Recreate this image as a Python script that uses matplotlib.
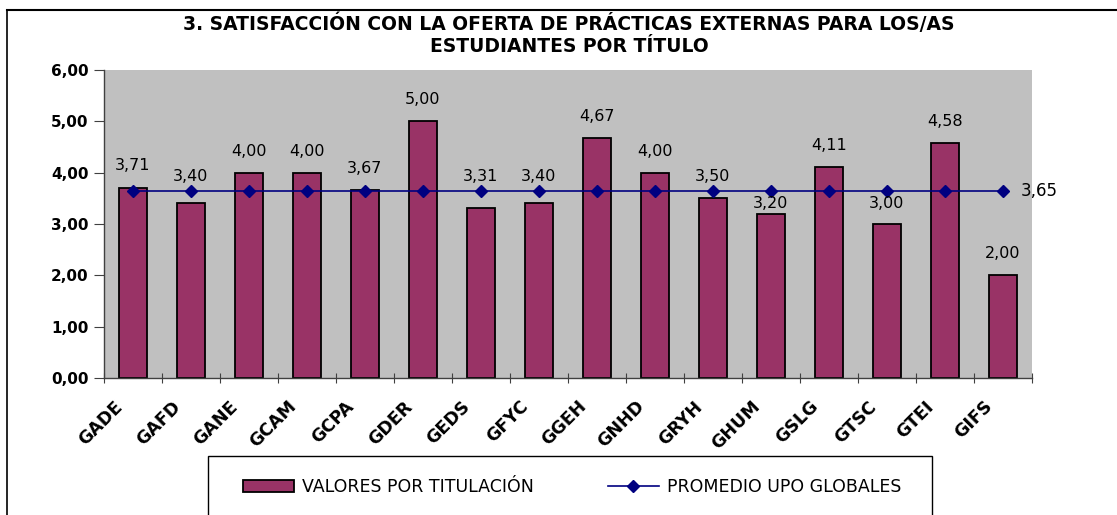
import matplotlib
matplotlib.use("Agg")

import matplotlib.pyplot as plt
import matplotlib.transforms as mtransforms
from matplotlib.lines import Line2D
from matplotlib.patches import Patch, Rectangle

titulos = ['GADE', 'GAFD', 'GANE', 'GCAM', 'GCPA', 'GDER', 'GEDS', 'GFYC',
           'GGEH', 'GNHD', 'GRYH', 'GHUM', 'GSLG', 'GTSC', 'GTEI', 'GIFS']
valores = [3.71, 3.40, 4.00, 4.00, 3.67, 5.00, 3.31, 3.40,
           4.67, 4.00, 3.50, 3.20, 4.11, 3.00, 4.58, 2.00]
promedio = 3.65
y_ticks = [0, 1, 2, 3, 4, 5, 6]

BAR = '#993366'
LINEA = '#000080'
GRIS = '#C0C0C0'

plt.rcParams['font.family'] = ['DejaVu Sans']


def coma(v):
    return f"{v:.2f}".replace('.', ',')


W, H = 1117, 515
fig = plt.figure(figsize=(W / 100, H / 100), dpi=100)
ax = fig.add_axes([104 / W, 1 - 378 / H, (1032 - 104) / W, (378 - 70) / H])
ax.set_facecolor(GRIS)

x = list(range(len(titulos)))
ax.bar(x, valores, width=0.47, color=BAR, edgecolor='black', linewidth=1.3, zorder=2)
ax.plot(x, [promedio] * len(x), color=LINEA, linewidth=1.2, marker='D',
        markersize=6, zorder=3)

# etiquetas de valor: encima de la barra, evitando la linea del promedio
for xi, v in zip(x, valores):
    y = v + 0.42
    if abs(y - promedio) < 0.25:
        y = promedio + 0.28 if y >= promedio else promedio - 0.25
    ax.text(xi, y, coma(v), ha='center', va='center', fontsize=11.5, zorder=4)

ax.text(len(x) - 1 + 0.3, promedio, coma(promedio), ha='left', va='center',
        fontsize=12, clip_on=False)

ax.set_xlim(-0.5, len(x) - 0.5)
ax.set_ylim(0, 6)
ax.set_yticks(y_ticks)
ax.set_yticklabels([coma(t) for t in y_ticks], fontsize=11, fontweight='bold')
ax.set_xticks([i - 0.5 for i in range(len(x) + 1)], minor=False)
ax.set_xticklabels([])
ax.set_xticks(x, minor=True)
ax.set_xticklabels(titulos, minor=True, rotation=45, ha='right',
                   rotation_mode='anchor', fontsize=12.5, fontweight='bold')
ax.tick_params(axis='x', which='minor', length=0, pad=14)
ax.tick_params(axis='x', which='major', length=7, color='#404040', direction='inout')
ax.tick_params(axis='y', length=7, color='#404040', direction='out', pad=4)
off = mtransforms.ScaledTranslation(-20 / 100, 0, fig.dpi_scale_trans)
for lbl in ax.get_xticklabels(minor=True):
    lbl.set_transform(lbl.get_transform() + off)

for s in ['top', 'right']:
    ax.spines[s].set_visible(False)
for s in ['left', 'bottom']:
    ax.spines[s].set_color('#404040')
    ax.spines[s].set_linewidth(1.0)

# titulo
fig.text(569 / W, 1 - 24 / H, '3. SATISFACCIÓN CON LA OFERTA DE PRÁCTICAS EXTERNAS PARA LOS/AS',
         ha='center', va='center', fontsize=13.5, fontweight='bold')
fig.text(569 / W, 1 - 47 / H, 'ESTUDIANTES POR TÍTULO',
         ha='center', va='center', fontsize=13.5, fontweight='bold')

# marco del grafico
fig.add_artist(Line2D([7 / W, 7 / W], [0, 1 - 10 / H], color='black', linewidth=1.2))
fig.add_artist(Line2D([7 / W, 1], [1 - 10 / H, 1 - 10 / H], color='black', linewidth=1.5))

# caja de la leyenda
fig.add_artist(Rectangle((208 / W, -0.05), (932 - 208) / W, 0.05 + (1 - 456 / H),
                         transform=fig.transFigure, facecolor='none',
                         edgecolor='black', linewidth=1.0))
handles = [Patch(facecolor=BAR, edgecolor='black', linewidth=1.3),
           Line2D([], [], color=LINEA, linewidth=1.2, marker='D', markersize=6)]
fig.legend(handles, ['VALORES POR TITULACIÓN', 'PROMEDIO UPO GLOBALES'],
           loc='center left', bbox_to_anchor=(243 / W, 1 - 487 / H), ncol=2,
           frameon=False, fontsize=12.5, handlelength=2.95, handleheight=0.65,
           handletextpad=0.45, columnspacing=4.25, borderpad=0, borderaxespad=0)

fig.savefig('out.png', dpi=100)
